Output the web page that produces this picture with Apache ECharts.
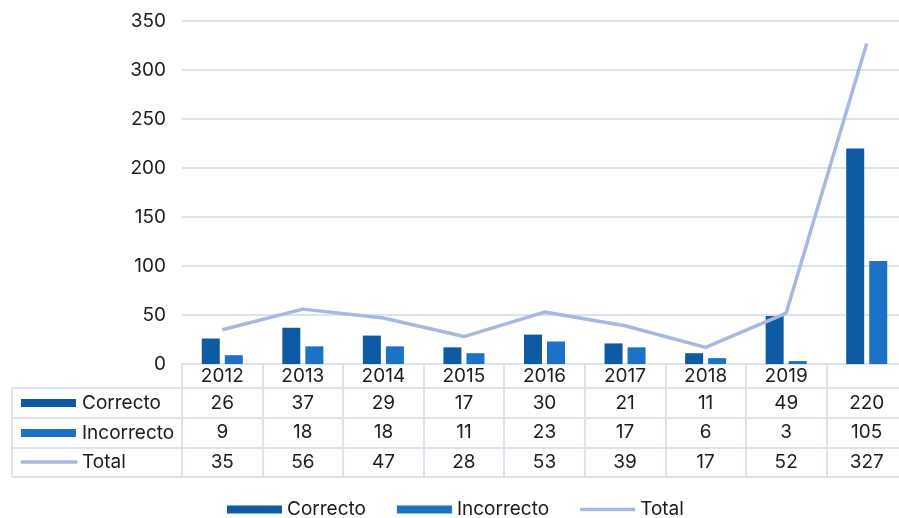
<!DOCTYPE html>
<html>
<head>
<meta charset="utf-8">
<script src="https://cdn.jsdelivr.net/npm/echarts@6/dist/echarts.min.js"></script>
<style>
  html, body { margin: 0; padding: 0; background: #fff; }
  #chart { width: 899px; height: 518px; }
</style>
</head>
<body>
<div id="chart"></div>
<script>
// Yearly counts; the last column has no year label
const categories = ['2012', '2013', '2014', '2015', '2016', '2017', '2018', '2019', ''];
const correcto   = [26, 37, 29, 17, 30, 21, 11, 49, 220];
const incorrecto = [9, 18, 18, 11, 23, 17, 6, 3, 105];
const total      = [35, 56, 47, 28, 53, 39, 17, 52, 327];
const yTicks     = { min: 0, max: 350, step: 50 };

const C_CORRECTO = '#0f5ba3';
const C_INCORRECTO = '#1b72c8';
const C_TOTAL = '#a6b9e0';
const GRID_LINE = '#dde3ec';
const TEXT = '#1c1c1c';
const FONT = 'Inter';
const FS = 19;

const chart = echarts.init(document.getElementById('chart'));

// Table rows under the plot: each category label stacks year + the three values
const tableLabel = (value, idx) =>
  '{h|' + value + '}\n{v|' + correcto[idx] + '}\n{v|' + incorrecto[idx] + '}\n{v|' + total[idx] + '}';

const rowLines = [388, 418, 448, 477];
const graphics = [];
rowLines.forEach(y => {
  graphics.push({
    type: 'line', silent: true,
    shape: { x1: 12, y1: y, x2: 899, y2: y },
    style: { stroke: GRID_LINE, lineWidth: 2 }
  });
});
graphics.push({
  type: 'line', silent: true,
  shape: { x1: 12, y1: 388, x2: 12, y2: 477 },
  style: { stroke: GRID_LINE, lineWidth: 2 }
});
// Row keys on the left side of the table
const rowKeys = [
  { name: 'Correcto', kind: 'bar', color: C_CORRECTO, y: 403 },
  { name: 'Incorrecto', kind: 'bar', color: C_INCORRECTO, y: 433 },
  { name: 'Total', kind: 'line', color: C_TOTAL, y: 462 }
];
rowKeys.forEach(k => {
  if (k.kind === 'bar') {
    graphics.push({ type: 'rect', silent: true,
      shape: { x: 21, y: k.y - 4, width: 55, height: 8 },
      style: { fill: k.color } });
  } else {
    graphics.push({ type: 'line', silent: true,
      shape: { x1: 22, y1: k.y, x2: 76, y2: k.y },
      style: { stroke: k.color, lineWidth: 3.5, lineCap: 'round' } });
  }
  graphics.push({ type: 'text', silent: true, x: 82, y: k.y,
    style: { text: k.name, fill: TEXT, font: FS + 'px ' + FONT, textVerticalAlign: 'middle' } });
});

chart.setOption({
  animation: false,
  textStyle: { fontFamily: FONT },
  grid: { left: 182, top: 21, bottom: 154, width: 725, outerBoundsMode: 'none', containLabel: false },
  legend: {
    top: 495,
    left: 222,
    itemWidth: 55,
    itemHeight: 8,
    itemGap: 31,
    textStyle: { fontSize: FS, color: TEXT, fontFamily: FONT },
    data: [
      { name: 'Correcto', icon: 'rect' },
      { name: 'Incorrecto', icon: 'rect' },
      { name: 'Total', icon: 'path://M0,0 L55,0 L55,3.5 L0,3.5 Z' }
    ]
  },
  xAxis: {
    type: 'category',
    data: categories,
    axisLine: { show: true, lineStyle: { color: GRID_LINE, width: 2 } },
    axisTick: { show: true, interval: 0, length: 113, lineStyle: { color: GRID_LINE, width: 2 } },
    axisLabel: {
      interval: 0,
      margin: 0,
      formatter: tableLabel,
      rich: {
        h: { fontSize: FS, lineHeight: 24, color: TEXT, fontFamily: FONT },
        v: { fontSize: FS, lineHeight: 29.7, color: TEXT, fontFamily: FONT }
      }
    }
  },
  yAxis: {
    type: 'value',
    min: yTicks.min,
    max: yTicks.max,
    interval: yTicks.step,
    axisLine: { show: false },
    axisTick: { show: false },
    axisLabel: { fontSize: FS, color: TEXT, margin: 16, fontFamily: FONT },
    splitLine: { lineStyle: { color: GRID_LINE, width: 2 } }
  },
  graphic: graphics,
  series: [
    { name: 'Correcto', type: 'bar', data: correcto, barWidth: 18, barGap: '28%',
      itemStyle: { color: C_CORRECTO } },
    { name: 'Incorrecto', type: 'bar', data: incorrecto, barWidth: 18,
      itemStyle: { color: C_INCORRECTO } },
    { name: 'Total', type: 'line', data: total, symbol: 'none',
      lineStyle: { color: C_TOTAL, width: 3.5 }, itemStyle: { color: C_TOTAL } }
  ]
});
</script>
</body>
</html>
